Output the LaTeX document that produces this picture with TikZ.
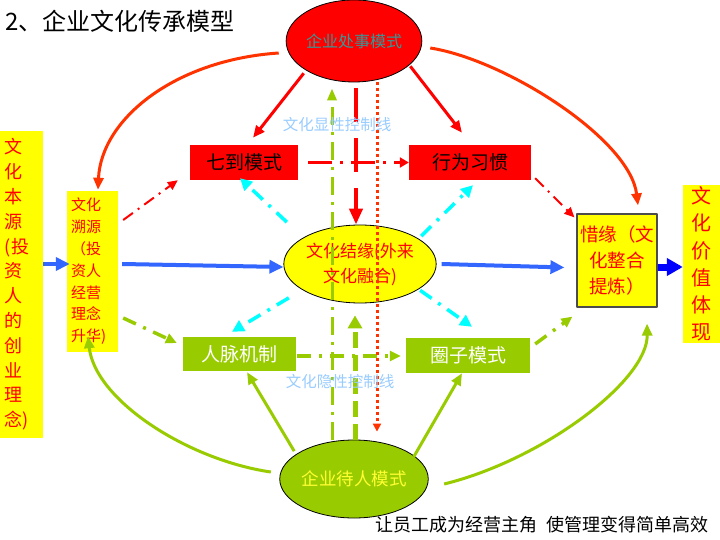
\documentclass[tikz,border=0pt]{standalone}
\usepackage{fontspec}
\newfontfamily\cjk{Noto Sans CJK SC}
\usetikzlibrary{shapes.geometric,arrows.meta}
\definecolor{maudo}{HTML}{FF0000}
\definecolor{maucam}{HTML}{FF3300}
\definecolor{mauvang}{HTML}{FFFF00}
\definecolor{mauvangnhat}{HTML}{FFFF33}
\definecolor{mauxanhla}{HTML}{99CC00}
\definecolor{mauxanhlam}{HTML}{00FFFF}
\definecolor{mauxanhduong}{HTML}{3366FF}
\definecolor{mauxanhdam}{HTML}{0000FF}
\definecolor{mauchu}{HTML}{99CCFF}
\definecolor{mauteal}{HTML}{339999}
\begin{document}
\begin{tikzpicture}[x=1pt, y=-1pt, font=\cjk, line join=round,
  elip/.style={ellipse, draw=black, line width=0.8pt, inner sep=0pt},
  khungdo/.style={rectangle, fill=maudo, text=black, inner sep=0pt, font=\cjk\fontsize{19}{19}\selectfont},
  khungxanh/.style={rectangle, fill=mauxanhla, text=white, inner sep=0pt, font=\cjk\fontsize{19}{19}\selectfont},
  khungvang/.style={rectangle, fill=mauvang, text=maudo, inner sep=0pt},
  nhan/.style={text=mauchu, inner sep=0pt, font=\cjk\fontsize{15.5}{15.5}\selectfont},
  tenxanh/.style={draw=mauxanhduong, line width=4pt, -{Triangle[length=14pt,width=13pt]}},
  tenxanhdam/.style={draw=mauxanhdam, line width=7pt, -{Triangle[length=16pt,width=17pt]}},
  tencam/.style={draw=maucam, line width=3pt, -{Triangle[length=12pt,width=10pt]}},
  tendo/.style={draw=maudo, line width=3pt, -{Triangle[length=12pt,width=10pt]}},
  tenla/.style={draw=mauxanhla, line width=3pt, -{Triangle[length=12pt,width=10pt]}},
  chamdo/.style={draw=maudo, line width=2pt, dash pattern=on 12pt off 6pt on 2pt off 6pt, -{Triangle[length=10pt,width=9pt]}},
  chamlam/.style={draw=mauxanhlam, line width=3.5pt, dash pattern=on 14pt off 8pt on 3pt off 8pt, -{Triangle[length=12pt,width=12pt]}},
  chamla/.style={draw=mauxanhla, line width=3.5pt, dash pattern=on 14pt off 8pt on 3pt off 8pt, -{Triangle[length=11pt,width=10pt]}}]
% Nền và khung hình
\fill[white] (0,0) rectangle (720,540);
\useasboundingbox (0,0) rectangle (720,540);
% Tiêu đề
\node[anchor=west, inner sep=0pt, font=\cjk\fontsize{24}{24}\selectfont] (tieuDe) at (5,21) {2、企业文化传承模型};
% Ba hình elip
\node[elip, fill=maudo, text=mauteal, minimum width=124pt, minimum height=82pt, font=\cjk\fontsize{16}{16}\selectfont] (xuSu) at (354,41) {企业处事模式};
\node[elip, fill=mauvang, text=maudo, minimum width=144pt, minimum height=78pt, align=center, font=\cjk\fontsize{17}{25}\selectfont] (jieYuan) at (360,264) {文化结缘(外来\\文化融合)};
\node[elip, fill=mauxanhla, text=mauvangnhat, minimum width=125pt, minimum height=78pt, font=\cjk\fontsize{17.5}{17.5}\selectfont] (daiRen) at (354,479) {企业待人模式};
% Bốn ô ở giữa
\node[khungdo, minimum width=108pt, minimum height=35pt] (qiDao) at (244,162.5) {七到模式};
\node[khungdo, minimum width=122pt, minimum height=35pt] (xingWei) at (470,162.5) {行为习惯};
\node[khungxanh, minimum width=113pt, minimum height=34pt] (renMai) at (239.5,354) {人脉机制};
\node[khungxanh, minimum width=124pt, minimum height=35pt] (quanZi) at (468,355.5) {圈子模式};
% Các ô vàng hai bên
\node[khungvang, minimum width=43pt, minimum height=307pt, text width=33pt, inner xsep=5pt, align=left, font=\cjk\fontsize{18}{24.8}\selectfont] (benYuan) at (21.5,284.5) {文\\化\\本\\源\\(投\\资\\人\\的\\创\\业\\理\\念)};
\node[khungvang, minimum width=51pt, minimum height=161pt, text width=43pt, inner xsep=4pt, align=left, font=\cjk\fontsize{15}{21.8}\selectfont] (suYuan) at (92.5,271.5) {文化\\溯源\\（投\\资人\\经营\\理念\\升华)};
\node[khungvang, draw=black!70, line width=1.2pt, minimum width=80pt, minimum height=93pt, align=center, font=\cjk\fontsize{18.5}{26}\selectfont] (xiYuan) at (617,260.5) {惜缘（文\\化整合\\提炼）};
\node[khungvang, minimum width=37pt, minimum height=158pt, align=center, font=\cjk\fontsize{20}{27.2}\selectfont] (jiaZhi) at (701.5,264) {文\\化\\价\\值\\体\\现};
% Mũi tên xanh dương (trục chính)
\draw[tenxanh] ([yshift=20.5pt]benYuan.east) -- ([xshift=3pt,yshift=7.5pt]suYuan.west);
\draw[tenxanh] ([xshift=4pt,yshift=7.5pt]suYuan.east) -- ([yshift=-3pt]jieYuan.west);
\draw[tenxanh] ([xshift=5pt]jieYuan.east) -- ([xshift=-12pt,yshift=-7pt]xiYuan.west);
\draw[tenxanhdam] ([yshift=-6.5pt]xiYuan.east) -- ([yshift=-3pt]jiaZhi.west);
% Cung màu cam từ elip trên
\draw[tencam] ([xshift=-7pt,yshift=-12pt]xuSu.west) .. controls +(-105,7) and +(3,-70) .. ([xshift=5.5pt,yshift=1pt]suYuan.north);
\draw[tencam] ([xshift=8pt,yshift=-7pt]xuSu.east) .. controls +(76,12) and +(-8,-66) .. ([xshift=21pt,yshift=8pt]xiYuan.north);
% Mũi tên đỏ thẳng
\draw[tendo] ([xshift=-2pt,yshift=-3pt]xuSu.south west) -- ([xshift=9pt,yshift=7pt]qiDao.north);
\draw[tendo] ([xshift=8pt,yshift=4pt]xuSu.south east) -- ([xshift=-8pt,yshift=12pt]xingWei.north);
% Đường chấm gạch đỏ
\draw[chamdo] ([xshift=5pt,yshift=51.5pt]suYuan.east) -- ([xshift=-12pt]qiDao.south west);
\draw[chamdo, line width=3pt, dash pattern=on 24pt off 8pt on 3pt off 8pt, -{Triangle[length=9pt,width=10pt]}] ([xshift=10pt]qiDao.east) -- (xingWei.west);
\draw[chamdo] ([xshift=4pt,yshift=2pt]xingWei.south east) -- ([xshift=-2pt,yshift=-4pt]xiYuan.north west);
% Cung xanh lá từ elip dưới
\draw[tenla] ([xshift=-8.5pt,yshift=7pt]daiRen.west) .. controls +(-83,-12) and +(7,64) .. ([xshift=-4.5pt,yshift=16pt]suYuan.south);
\draw[tenla] ([xshift=15.5pt,yshift=-5pt]daiRen.east) .. controls +(98,-24) and +(1,57) .. ([xshift=30pt,yshift=-16pt]xiYuan.south);
% Mũi tên xanh lá thẳng
\draw[tenla] ([xshift=-7pt]daiRen.north west) -- ([xshift=7.5pt,yshift=-1pt]renMai.south);
\draw[tenla] ([xshift=7pt,yshift=-5.6pt]daiRen.north east) -- ([xshift=-6pt]quanZi.south);
% Đường chấm gạch xanh lá
\draw[chamla] ([xshift=5pt,yshift=-46.5pt]suYuan.east) -- ([xshift=-6pt,yshift=11pt]renMai.west);
\draw[chamla] ([xshift=1pt,yshift=-2pt]renMai.east) -- ([xshift=-5pt,yshift=-0.5pt]quanZi.west);
\draw[chamla] ([xshift=5pt,yshift=11.5pt]quanZi.east) -- ([xshift=-4pt,yshift=-9pt]xiYuan.south west);
% Chấm gạch xanh lam từ elip giữa
\draw[chamlam] ([xshift=-19pt,yshift=14pt]jieYuan.north west) -- ([xshift=-4pt,yshift=2pt]qiDao.south);
\draw[chamlam] ([xshift=7pt]jieYuan.north east) -- ([xshift=3pt,yshift=-5pt]xingWei.south);
\draw[chamlam] ([xshift=-17pt,yshift=-6pt]jieYuan.south west) -- ([xshift=-7.5pt,yshift=5pt]renMai.north);
\draw[chamlam] ([xshift=6pt,yshift=1.5pt]jieYuan.south east) -- ([xshift=4pt,yshift=11pt]quanZi.north);
% Các đường dọc
\draw[maudo, line width=4pt, dash pattern=on 34pt off 16pt, -{Triangle[length=16pt,width=13pt]}] ([xshift=2pt,yshift=-6pt]xuSu.south) -- ([xshift=-4pt]jieYuan.north);
\draw[maucam, line width=3pt, dash pattern=on 3pt off 3pt, -{Triangle[length=8pt,width=8pt]}] ([xshift=23pt]xuSu.south) -- ([xshift=23pt,yshift=8pt]daiRen.north);
\draw[mauxanhla, line width=3pt, dash pattern=on 18pt off 7pt on 3pt off 7pt, -{Triangle[length=12pt,width=9pt]}] ([xshift=-22pt]daiRen.north) -- ([xshift=-22pt,yshift=-6pt]xuSu.south);
\draw[mauxanhla, line width=5pt, dash pattern=on 16pt off 7pt, -{Triangle[length=13pt,width=14pt]}] ([xshift=1pt]daiRen.north) -- ([xshift=-5pt,yshift=-12pt]jieYuan.south);
% Nhãn các đường kiểm soát
\node[nhan] (hienTinh) at (337,125) {文化显性控制线};
\node[nhan] (anTinh) at (340,382) {文化隐性控制线};
% Khẩu hiệu phía dưới
\node[anchor=west, inner sep=0pt, font=\cjk\fontsize{18}{18}\selectfont] (khauHieu) at (375,525) {让员工成为经营主角\hspace{9pt}使管理变得简单高效};
\end{tikzpicture}
\end{document}
